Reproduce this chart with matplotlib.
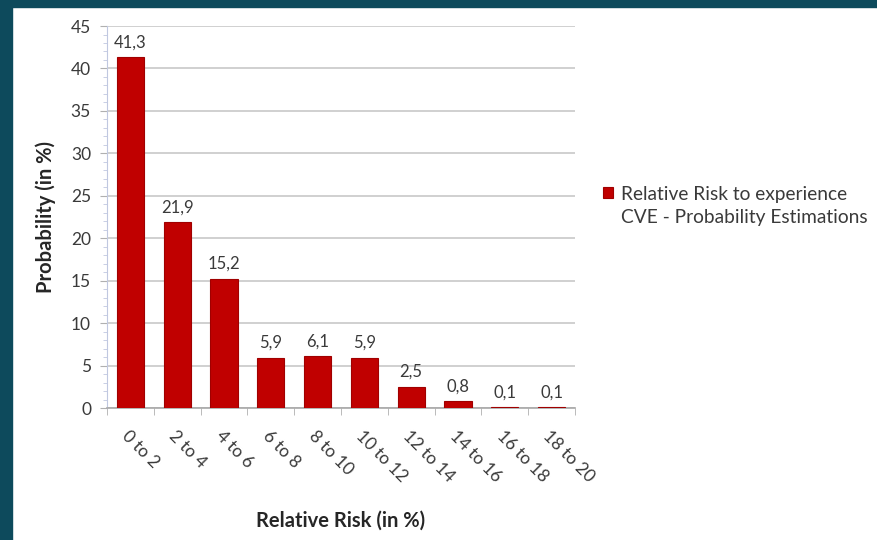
import numpy as np
import matplotlib.pyplot as plt
import matplotlib.transforms as mtransforms
from matplotlib.patches import Rectangle
from matplotlib.ticker import MultipleLocator

categorias = ['0 to 2', '2 to 4', '4 to 6', '6 to 8', '8 to 10',
              '10 to 12', '12 to 14', '14 to 16', '16 to 18', '18 to 20']
probabilidad = [41.3, 21.9, 15.2, 5.9, 6.1, 5.9, 2.5, 0.8, 0.1, 0.1]

plt.rcParams['font.family'] = ['Lato', 'DejaVu Sans']
gris = '#3a3a3a'
rojo = '#c00000'

fig = plt.figure(figsize=(8.77, 5.40), dpi=100)
fig.patch.set_facecolor('white')

# borde teal de la diapositiva
fig.patches.append(Rectangle((0, 0), 0.014, 1, transform=fig.transFigure,
                             color='#0d4a5c', zorder=0))
fig.patches.append(Rectangle((0, 0.987), 1, 0.013, transform=fig.transFigure,
                             color='#0d4a5c', zorder=0))

ax = fig.add_axes([0.122, 0.2444, 0.5336, 0.7074])
x = np.arange(len(categorias))
barras = ax.bar(x, probabilidad, width=0.58, color=rojo, edgecolor='#a00000',
                linewidth=0.8, zorder=3,
                label='Relative Risk to experience\nCVE - Probability Estimations')

for xi, v in zip(x, probabilidad):
    ax.annotate(f'{v:.1f}'.replace('.', ','), (xi, v), xytext=(0, 5),
                textcoords='offset points', ha='center', va='bottom',
                fontsize=12, color=gris)

ax.set_xlim(-0.5, len(categorias) - 0.5)
ax.set_ylim(0, 45)
ax.yaxis.set_major_locator(MultipleLocator(5))
ax.yaxis.set_minor_locator(MultipleLocator(1))
ax.grid(axis='y', color='#c8c8c8', linewidth=1.2, zorder=0)

ax.set_xticks(x)
ax.set_xticklabels(categorias, rotation=-45, ha='left', rotation_mode='anchor',
                   fontsize=12.5, color=gris)
desplaza = mtransforms.ScaledTranslation(10 / 72, 0, fig.dpi_scale_trans)
for lab in ax.get_xticklabels():
    lab.set_transform(lab.get_transform() + desplaza)
ax.set_xticks(np.arange(-0.5, len(categorias)), minor=True)
ax.tick_params(axis='x', which='major', length=0, pad=14)
ax.tick_params(axis='x', which='minor', length=5, color='#b0b0b0', direction='out')
ax.tick_params(axis='y', which='major', length=5, color='#b0b0b0', labelsize=12.5,
               labelcolor=gris, pad=6.5)
ax.tick_params(axis='y', which='minor', length=3, color='#c0c8e0')

for s in ['top', 'right']:
    ax.spines[s].set_visible(False)
ax.spines['left'].set_color('#c0c8e0')
ax.spines['bottom'].set_color('#a8a8a8')
ax.spines['bottom'].set_linewidth(1.2)

ax.set_ylabel('Probability (in %)', fontsize=14.5, fontweight='bold', color='#262626')
ax.set_xlabel('Relative Risk (in %)', fontsize=14.5, fontweight='bold', color='#262626')
ax.yaxis.set_label_coords(-0.108, 0.5)
ax.xaxis.set_label_coords(0.5, -0.268)

fs_leg = 13.8
leg = fig.legend(handles=[barras], loc='center left', bbox_to_anchor=(0.688, 0.6185),
                 frameon=False, fontsize=fs_leg, labelcolor=gris, handlelength=0.52,
                 handleheight=0.52, handletextpad=0.42, borderpad=0, borderaxespad=0)
for t in leg.get_texts():
    t.set_linespacing(1.4)
# cuadradito alineado con la primera linea, como en Excel
h = leg.legend_handles[0]
h.set_y(h.get_y() + 0.7 * fs_leg)

fig.savefig('out.png', dpi=100)
